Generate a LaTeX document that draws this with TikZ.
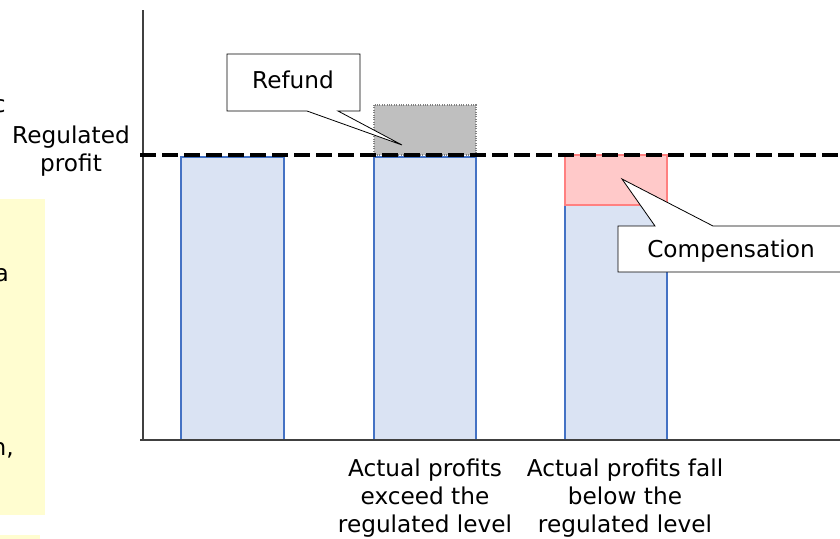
\documentclass[tikz,border=0pt]{standalone}
\usepackage{fontspec}
\setmainfont{DejaVu Sans}
\definecolor{barfill}{HTML}{DAE3F3}
\definecolor{barline}{HTML}{4472C4}
\definecolor{axisgray}{HTML}{404040}
\definecolor{refundfill}{HTML}{BFBFBF}
\definecolor{refundline}{HTML}{7F7F7F}
\definecolor{compfill}{HTML}{FFC9C9}
\definecolor{compline}{HTML}{FF8080}
\definecolor{notefill}{HTML}{FFFDD0}
\tikzset{
  bar/.style={fill=barfill,draw=barline,line width=1.3pt},
  lbl/.style={font=\fontsize{17.4}{21.2}\selectfont,align=center,inner sep=0pt},
  callout/.style={fill=white,draw=black,line width=0.6pt,line join=miter}
}
\begin{document}
\begin{tikzpicture}[x=0.75pt,y=-0.75pt]
\useasboundingbox (0,0) rectangle (840,539);
\begin{scope}
\clip (0,0) rectangle (840,539);
% left cropped fragments
\fill[notefill] (0,199) rectangle (45,515);
\fill[notefill] (0,535) rectangle (40,545);
\node[lbl,anchor=east] (fragc) at (6,106) {c};
\node[lbl,anchor=east] (fraga) at (9,275) {a};
\node[lbl,anchor=east] (fragn) at (14,450) {n,};
% bars
\draw[bar] (181,157) rectangle (284,440);
\draw[bar] (374,157) rectangle (476,440);
\draw[bar] (565,205) rectangle (667,440);
\draw[fill=refundfill,draw=refundline,line width=0.8pt,densely dotted] (374,105) rectangle (476,155);
\draw[fill=compfill,draw=compline,line width=1pt] (565,155) rectangle (667,205);
% axes
\draw[axisgray,line width=1.6pt] (143,10) -- (143,441);
\draw[axisgray,line width=1.6pt] (140,440) -- (845,440);
% regulated level
\draw[black,line width=3.6pt,dash pattern=on 12pt off 4.5pt] (140,155) -- (845,155);
% callouts
\draw[callout] (227,54) -- (360,54) -- (360,111) -- (338,111) -- (402,145) -- (307,111) -- (227,111) -- cycle;
\draw[callout] (618,226) -- (655,226) -- (622,179) -- (713,226) -- (850,226) -- (850,272) -- (618,272) -- cycle;
\end{scope}
% texts
\node[lbl] (refund) at (293,80) {Refund};
\node[lbl] (comp) at (731,251) {Compensation};
\node[lbl] (reg) at (71,151) {Regulated\\profit};
\node[lbl] (exceed) at (425,498) {Actual profits\\exceed the\\regulated level};
\node[lbl] (below) at (625,498) {Actual profits fall\\below the\\regulated level};
\end{tikzpicture}
\end{document}
